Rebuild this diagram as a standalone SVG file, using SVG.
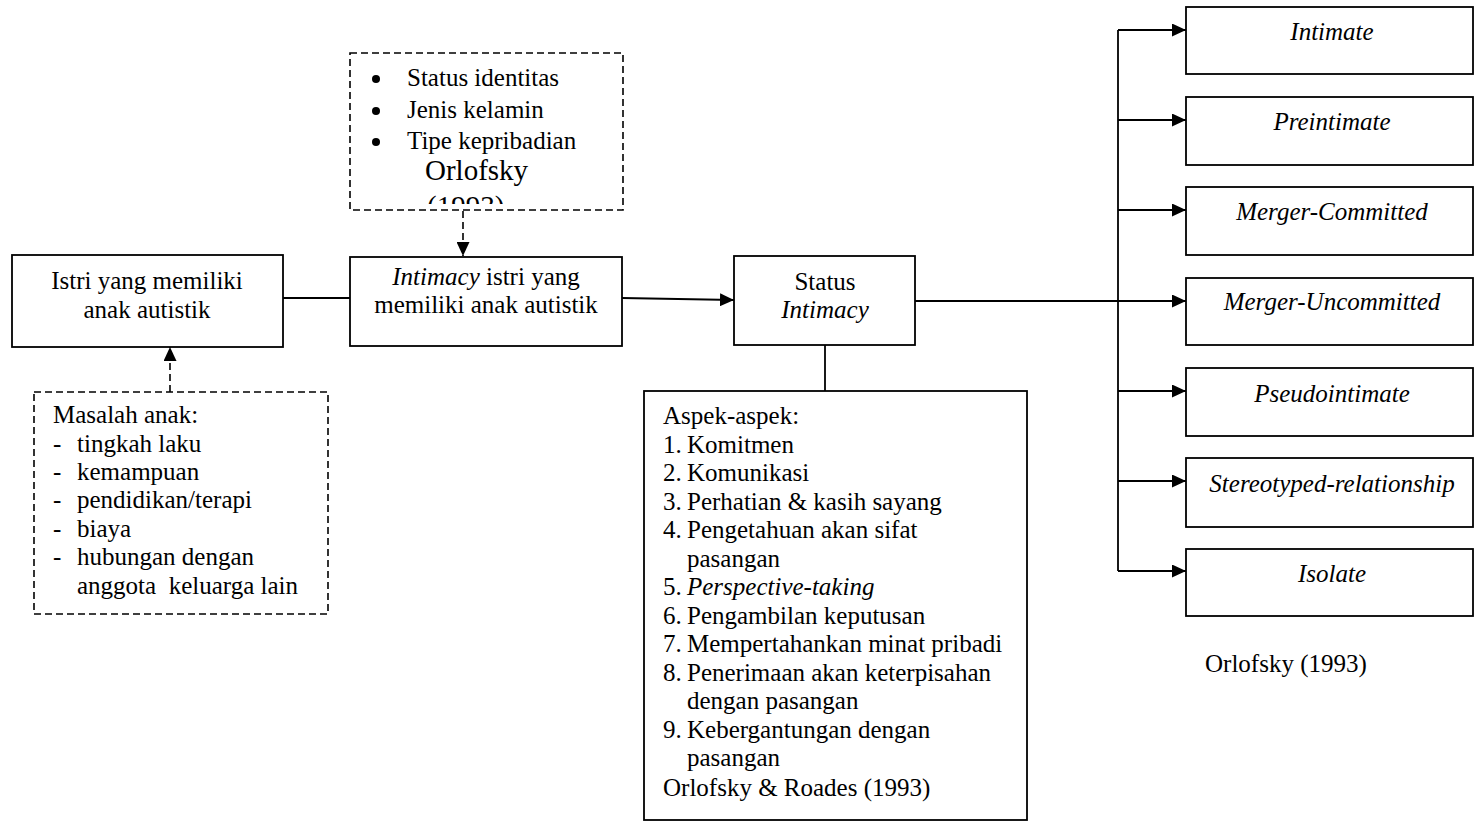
<svg xmlns="http://www.w3.org/2000/svg" width="1475" height="821" viewBox="0 0 1475 821">
<style>
text{font-family:"Liberation Serif","Times New Roman",serif;font-size:25px;fill:#000}
.c{text-anchor:middle}
.i{font-style:italic}
.box{fill:#fff;stroke:#000;stroke-width:1.8}
.dash{fill:#fff;stroke:#000;stroke-width:1.6;stroke-dasharray:7 4}
.ln{fill:none;stroke:#000;stroke-width:1.8}
.dl{fill:none;stroke:#000;stroke-width:1.6;stroke-dasharray:7 4}
</style>
<defs>
<marker id="arr" markerUnits="userSpaceOnUse" markerWidth="14" markerHeight="13" refX="14" refY="6.5" orient="auto">
<path d="M0,0 L14,6.5 L0,13 Z" fill="#000"/>
</marker>
<clipPath id="topclip"><rect x="351" y="54" width="271" height="150"/></clipPath>
</defs>
<rect width="1475" height="821" fill="#fff"/>

<g id="connectors">
<line class="ln" x1="283" y1="298" x2="350" y2="298"/>
<line class="dl" x1="463" y1="211" x2="463" y2="256" marker-end="url(#arr)"/>
<line class="dl" x1="170" y1="392" x2="170" y2="347" marker-end="url(#arr)"/>
<line class="ln" x1="622" y1="298" x2="734" y2="300" marker-end="url(#arr)"/>
<line class="ln" x1="825" y1="345" x2="825" y2="391"/>
<line class="ln" x1="915" y1="301" x2="1186" y2="301" marker-end="url(#arr)"/>
<line class="ln" x1="1118" y1="30" x2="1118" y2="571"/>
<line class="ln" x1="1118" y1="30" x2="1186" y2="30" marker-end="url(#arr)"/>
<line class="ln" x1="1118" y1="120" x2="1186" y2="120" marker-end="url(#arr)"/>
<line class="ln" x1="1118" y1="210" x2="1186" y2="210" marker-end="url(#arr)"/>
<line class="ln" x1="1118" y1="391" x2="1186" y2="391" marker-end="url(#arr)"/>
<line class="ln" x1="1118" y1="481" x2="1186" y2="481" marker-end="url(#arr)"/>
<line class="ln" x1="1118" y1="571" x2="1186" y2="571" marker-end="url(#arr)"/>
</g>

<g id="node-faktor">
<rect class="dash" x="350" y="53" width="273" height="157"/>
<circle cx="376" cy="79" r="4"/>
<circle cx="376" cy="111" r="4"/>
<circle cx="376" cy="142" r="4"/>
<g clip-path="url(#topclip)">
<text x="407" y="86">Status identitas</text>
<text x="407" y="118">Jenis kelamin</text>
<text x="407" y="149">Tipe kepribadian</text>
<text x="425" y="180" style="font-size:29px">Orlofsky</text>
<text x="427" y="216" style="font-size:29px">(1993)</text>
</g>
</g>

<g id="node-istri">
<rect class="box" x="12" y="255" width="271" height="92"/>
<text x="147" y="289" class="c">Istri yang memiliki</text>
<text x="147" y="318" class="c">anak autistik</text>
</g>

<g id="node-masalah">
<rect class="dash" x="34" y="392" width="294" height="222"/>
<text x="53" y="423">Masalah anak:</text>
<text x="53" y="452">-</text><text x="77" y="452">tingkah laku</text>
<text x="53" y="480">-</text><text x="77" y="480">kemampuan</text>
<text x="53" y="508">-</text><text x="77" y="508">pendidikan/terapi</text>
<text x="53" y="537">-</text><text x="77" y="537">biaya</text>
<text x="53" y="565">-</text><text x="77" y="565">hubungan dengan</text>
<text x="77" y="594" xml:space="preserve">anggota  keluarga lain</text>
</g>

<g id="node-intimacy">
<rect class="box" x="350" y="257" width="272" height="89"/>
<text x="486" y="285" class="c"><tspan class="i">Intimacy</tspan> istri yang</text>
<text x="486" y="313" class="c">memiliki anak autistik</text>
</g>

<g id="node-status">
<rect class="box" x="734" y="256" width="181" height="89"/>
<text x="825" y="290" class="c">Status</text>
<text x="825" y="318" class="c i">Intimacy</text>
</g>

<g id="node-aspek">
<rect class="box" x="644" y="391" width="383" height="429"/>
<text x="663" y="424">Aspek-aspek:</text>
<text x="663" y="452.5">1.</text><text x="687" y="452.5">Komitmen</text>
<text x="663" y="481">2.</text><text x="687" y="481">Komunikasi</text>
<text x="663" y="509.5">3.</text><text x="687" y="509.5">Perhatian &amp; kasih sayang</text>
<text x="663" y="538">4.</text><text x="687" y="538">Pengetahuan akan sifat</text>
<text x="687" y="566.5">pasangan</text>
<text x="663" y="595">5.</text><text x="687" y="595" class="i">Perspective-taking</text>
<text x="663" y="623.5">6.</text><text x="687" y="623.5">Pengambilan keputusan</text>
<text x="663" y="652">7.</text><text x="687" y="652">Mempertahankan minat pribadi</text>
<text x="663" y="680.5">8.</text><text x="687" y="680.5">Penerimaan akan keterpisahan</text>
<text x="687" y="709">dengan pasangan</text>
<text x="663" y="737.5">9.</text><text x="687" y="737.5">Kebergantungan dengan</text>
<text x="687" y="766">pasangan</text>
<text x="663" y="796">Orlofsky &amp; Roades (1993)</text>
</g>

<g id="node-intimate">
<rect class="box" x="1186" y="7" width="287" height="67"/>
<text x="1332" y="40" class="c i">Intimate</text>
</g>
<g id="node-preintimate">
<rect class="box" x="1186" y="97" width="287" height="68"/>
<text x="1332" y="130" class="c i">Preintimate</text>
</g>
<g id="node-merger-committed">
<rect class="box" x="1186" y="187" width="287" height="68"/>
<text x="1332" y="220" class="c i">Merger-Committed</text>
</g>
<g id="node-merger-uncommitted">
<rect class="box" x="1186" y="278" width="287" height="67"/>
<text x="1332" y="310" class="c i">Merger-Uncommitted</text>
</g>
<g id="node-pseudointimate">
<rect class="box" x="1186" y="368" width="287" height="68"/>
<text x="1332" y="402" class="c i">Pseudointimate</text>
</g>
<g id="node-stereotyped">
<rect class="box" x="1186" y="458" width="287" height="69"/>
<text x="1332" y="492" class="c i">Stereotyped-relationship</text>
</g>
<g id="node-isolate">
<rect class="box" x="1186" y="549" width="287" height="67"/>
<text x="1332" y="582" class="c i">Isolate</text>
</g>

<text x="1205" y="672">Orlofsky (1993)</text>
</svg>
